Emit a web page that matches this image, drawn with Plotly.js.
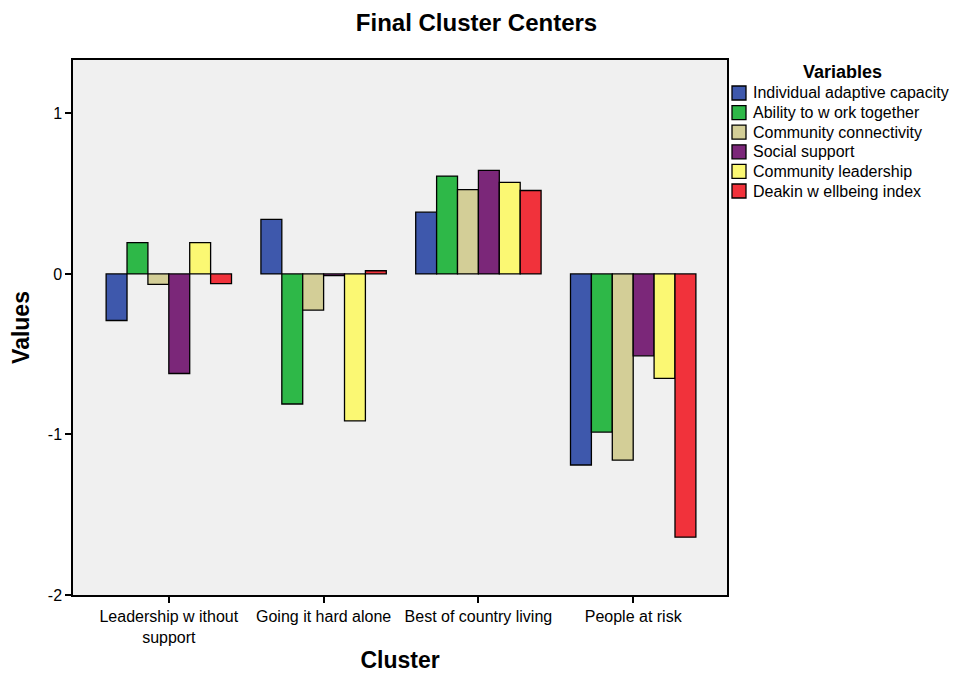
<!DOCTYPE html>
<html>
<head>
<meta charset="utf-8">
<script src="https://cdn.plot.ly/plotly-3.0.1.min.js"></script>
<style>body{margin:0;background:#fff}#chart{width:953px;height:673px}</style>
</head>
<body>
<div id="chart"></div>
<script>
var clusters = ["Leadership w ithout<br>support", "Going it hard alone", "Best of country living", "People at risk"];
var variableNames = ["Individual adaptive capacity", "Ability to w ork together", "Community connectivity", "Social support", "Community leadership", "Deakin w ellbeing index"];
var individualAdaptive = [-0.29, 0.34, 0.385, -1.19];
var abilityToWork = [0.195, -0.81, 0.61, -0.985];
var communityConnectivity = [-0.065, -0.225, 0.525, -1.16];
var socialSupport = [-0.62, -0.01, 0.645, -0.51];
var communityLeadership = [0.195, -0.915, 0.57, -0.65];
var deakinWellbeing = [-0.06, 0.02, 0.52, -1.64];
var yTickVals = [-2, -1, 0, 1];
var yTickText = ["-2", "-1", "0", "1"];
var seriesValues = [individualAdaptive, abilityToWork, communityConnectivity, socialSupport, communityLeadership, deakinWellbeing];
var colors = ["#3e58ac", "#2eb848", "#d3ce97", "#7b2779", "#fbf873", "#f1323b"];

var W = 953, H = 673, ML = 73, MR = 226, MT = 60, MB = 78;
var PW = W - ML - MR, PH = H - MT - MB;
function px2x(px) { return (px - ML) / PW; }
function px2y(py) { return (H - MB - py) / PH; }

var traces = seriesValues.map(function(v, i) {
  return {
    type: "bar",
    name: variableNames[i],
    x: [0, 1, 2, 3],
    y: v,
    marker: {color: colors[i], line: {color: "#000", width: 1.3}},
    hoverinfo: "y"
  };
});

// custom legend (layout element)
var shapes = [];
var annotations = [{
  text: "<b>Variables</b>", xref: "paper", yref: "paper",
  x: px2x(842), y: px2y(72), xanchor: "center", yanchor: "middle",
  showarrow: false, font: {size: 18}
}];
variableNames.forEach(function(name, i) {
  var cy = 93 + i * 19.6;
  shapes.push({
    type: "rect", xref: "paper", yref: "paper",
    x0: px2x(732), x1: px2x(746), y0: px2y(cy - 7), y1: px2y(cy + 7),
    fillcolor: colors[i], line: {color: "#000", width: 1.3}
  });
  annotations.push({
    text: name, xref: "paper", yref: "paper",
    x: px2x(751), y: px2y(cy), xanchor: "left", yanchor: "middle",
    showarrow: false, font: {size: 16}
  });
});

var layout = {
  width: W, height: H,
  paper_bgcolor: "#fff",
  plot_bgcolor: "#f0f0f0",
  font: {family: "Liberation Sans, Arial, sans-serif", color: "#000", size: 16},
  margin: {l: ML, r: MR, t: MT, b: MB},
  barmode: "group",
  bargap: 0.19,
  bargroupgap: 0,
  showlegend: false,
  title: {text: "<b>Final Cluster Centers</b>", font: {size: 24}, x: 0.5, xref: "container", xanchor: "center", y: 1 - 23 / H, yref: "container", yanchor: "middle"},
  xaxis: {
    range: [-0.619, 3.606],
    tickmode: "array", tickvals: [0, 1, 2, 3], ticktext: clusters,
    ticks: "outside", ticklen: 6, tickwidth: 1.5, tickcolor: "#000",
    showline: true, linecolor: "#000", linewidth: 1.5, mirror: true,
    showgrid: false, zeroline: false,
    tickfont: {size: 16},
    title: {text: "<b>Cluster</b>", font: {size: 23}, standoff: 22}
  },
  yaxis: {
    range: [-2, 1.333],
    tickmode: "array", tickvals: yTickVals, ticktext: yTickText,
    ticks: "outside", ticklen: 6, tickwidth: 1.5, tickcolor: "#000",
    showline: true, linecolor: "#000", linewidth: 1.5, mirror: true,
    showgrid: false, zeroline: false,
    tickfont: {size: 16},
    title: {text: "<b>Values</b>", font: {size: 23}, standoff: 12}
  },
  shapes: shapes,
  annotations: annotations
};

Plotly.newPlot("chart", traces, layout, {displayModeBar: false});
</script>
</body>
</html>
